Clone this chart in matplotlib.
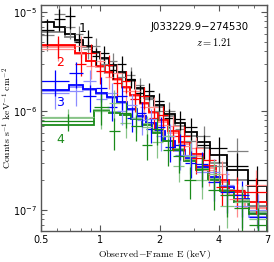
import matplotlib
matplotlib.use("Agg")
import matplotlib.pyplot as plt
import numpy as np
from matplotlib.ticker import LogLocator, FixedLocator, FixedFormatter, NullFormatter

# bin edges (keV) for each spectrum
edges1 = [0.5, 0.58, 0.66, 0.74, 0.82, 0.91, 1.0, 1.1, 1.22, 1.35, 1.5,
          1.67, 1.87, 2.1, 2.38, 2.7, 3.1, 3.6, 4.4, 5.6, 7.0]
edges2 = [0.5, 0.74, 0.85, 0.95, 1.05, 1.16, 1.28, 1.42, 1.58, 1.76, 1.97,
          2.2, 2.5, 2.85, 3.3, 3.85, 4.5, 5.4, 7.0]
edges3 = [0.5, 0.69, 0.82, 0.95, 1.08, 1.22, 1.37, 1.53, 1.71, 1.91, 2.14,
          2.4, 2.7, 3.05, 3.5, 4.05, 4.75, 5.7, 7.0]
edges4 = [0.5, 0.93, 1.1, 1.26, 1.43, 1.62, 1.83, 2.07, 2.35, 2.67, 3.05,
          3.5, 4.05, 4.75, 5.7, 7.0]

# folded models (dark = epoch a, light = epoch b)
model1a = [7.9e-6, 7.0e-6, 6.0e-6, 5.2e-6, 4.5e-6, 3.9e-6, 3.4e-6, 2.9e-6, 2.45e-6, 2.05e-6,
           1.7e-6, 1.42e-6, 1.15e-6, 9.3e-7, 7.6e-7, 6.1e-7, 4.8e-7, 3.6e-7, 2.5e-7, 1.75e-7]
model1b = [6.3e-6, 6.2e-6, 5.6e-6, 5.0e-6, 4.4e-6, 3.85e-6, 3.35e-6, 2.85e-6, 2.4e-6, 2.0e-6,
           1.65e-6, 1.36e-6, 1.1e-6, 8.8e-7, 7.0e-7, 5.5e-7, 4.2e-7, 3.0e-7, 2.0e-7, 1.1e-7]
model2a = [4.6e-6, 3.8e-6, 3.2e-6, 2.8e-6, 2.45e-6, 2.1e-6, 1.75e-6, 1.45e-6, 1.2e-6,
           9.8e-7, 8.0e-7, 6.3e-7, 4.8e-7, 3.7e-7, 2.8e-7, 2.0e-7, 1.5e-7, 1.2e-7]
model2b = [4.4e-6, 3.7e-6, 3.15e-6, 2.75e-6, 2.4e-6, 2.05e-6, 1.7e-6, 1.42e-6, 1.17e-6,
           9.5e-7, 7.7e-7, 6.0e-7, 4.6e-7, 3.5e-7, 2.65e-7, 1.9e-7, 1.4e-7, 1.05e-7]
model3a = [1.63e-6, 1.8e-6, 1.65e-6, 1.5e-6, 1.38e-6, 1.22e-6, 1.05e-6, 8.9e-7, 7.5e-7,
           6.2e-7, 5.0e-7, 4.0e-7, 3.3e-7, 2.7e-7, 2.15e-7, 1.7e-7, 1.3e-7, 9.3e-8]
model3b = [1.6e-6, 1.75e-6, 1.62e-6, 1.48e-6, 1.35e-6, 1.2e-6, 1.03e-6, 8.7e-7, 7.3e-7,
           6.0e-7, 4.9e-7, 3.9e-7, 3.2e-7, 2.6e-7, 2.05e-7, 1.6e-7, 1.2e-7, 8.5e-8]
model4a = [7.2e-7, 1.0e-6, 9.6e-7, 9.0e-7, 8.2e-7, 7.2e-7, 6.0e-7, 4.9e-7, 4.0e-7,
           3.1e-7, 2.5e-7, 2.0e-7, 1.55e-7, 1.2e-7, 9.0e-8]
model4b = [8.5e-7, 1.02e-6, 9.7e-7, 9.1e-7, 8.3e-7, 7.3e-7, 6.1e-7, 5.0e-7, 4.1e-7,
           3.2e-7, 2.6e-7, 2.05e-7, 1.6e-7, 1.25e-7, 9.5e-8]

# data points
data1a = [6.5e-6, 8.5e-6, 9.0e-6, 5.0e-6, 5.5e-6, 3.6e-6, 3.8e-6, 2.6e-6, 3.0e-6, 2.1e-6,
          1.5e-6, 1.6e-6, 1.25e-6, 8.5e-7, 8.2e-7, 6.8e-7, 4.5e-7, 4.2e-7, 2.8e-7, 2.0e-7]
data1b = [5.8e-6, 9.5e-6, 7.0e-6, 6.0e-6, 4.2e-6, 4.5e-6, 3.0e-6, 3.2e-6, 2.2e-6, 2.3e-6,
          1.8e-6, 1.3e-6, 1.0e-6, 1.0e-6, 6.5e-7, 5.0e-7, 5.5e-7, 2.8e-7, 3.9e-7, 1.1e-7]
data2a = [4.6e-6, 3.0e-6, 3.8e-6, 2.5e-6, 2.9e-6, 1.9e-6, 2.0e-6, 1.3e-6, 1.4e-6,
          8.5e-7, 9.0e-7, 5.5e-7, 5.5e-7, 3.3e-7, 3.2e-7, 1.7e-7, 1.6e-7, 1.5e-7]
data2b = [4.2e-6, 4.5e-6, 2.8e-6, 3.2e-6, 2.2e-6, 2.4e-6, 1.6e-6, 1.6e-6, 1.1e-6,
          1.1e-6, 7.2e-7, 7.0e-7, 4.4e-7, 4.2e-7, 2.5e-7, 2.3e-7, 1.3e-7, 1.8e-7]
data3a = [2.0e-6, 2.4e-6, 1.4e-6, 1.7e-6, 1.1e-6, 1.4e-6, 8.5e-7, 9.5e-7, 6.5e-7,
          6.8e-7, 4.3e-7, 4.5e-7, 3.0e-7, 2.9e-7, 1.9e-7, 1.5e-7, 1.4e-7, 8.5e-8]
data3b = [1.5e-6, 1.6e-6, 2.0e-6, 1.3e-6, 1.5e-6, 1.0e-6, 1.15e-6, 8.0e-7, 8.2e-7,
          5.5e-7, 5.6e-7, 3.6e-7, 3.6e-7, 2.4e-7, 2.4e-7, 1.8e-7, 1.1e-7, 1.0e-7]
data4a = [7.8e-7, 1.1e-6, 6.2e-7, 9.5e-7, 7.0e-7, 4.5e-7, 6.5e-7, 4.0e-7, 3.5e-7,
          2.0e-7, 2.6e-7, 1.6e-7, 1.4e-7, 1.05e-7, 7.0e-8]
data4b = [8.6e-7, 1.0e-6, 1.2e-6, 7.5e-7, 8.5e-7, 6.8e-7, 4.8e-7, 5.5e-7, 2.8e-7,
          3.5e-7, 2.0e-7, 2.3e-7, 1.1e-7, 1.2e-7, 8.0e-8]

# fractional 1-sigma errors
err1 = [0.3, 0.25, 0.25, 0.2, 0.2, 0.2, 0.2, 0.2, 0.2, 0.2,
        0.2, 0.2, 0.2, 0.22, 0.22, 0.25, 0.28, 0.3, 0.35, 0.4]
err2 = [0.25, 0.25, 0.25, 0.25, 0.25, 0.25, 0.25, 0.25, 0.25,
        0.25, 0.25, 0.28, 0.28, 0.3, 0.3, 0.35, 0.35, 0.4]
err3 = [0.3, 0.3, 0.3, 0.28, 0.28, 0.28, 0.28, 0.28, 0.28,
        0.28, 0.3, 0.3, 0.3, 0.32, 0.35, 0.38, 0.4, 0.45]
err4 = [0.2, 0.35, 0.35, 0.3, 0.3, 0.3, 0.3, 0.3, 0.32,
        0.35, 0.35, 0.38, 0.4, 0.45, 0.5]

xticks = [0.5, 1, 2, 4, 7]
xticklabels = ["0.5", "1", "2", "4", "7"]

spectra = [
    (edges1, model1a, model1b, data1a, data1b, err1, "black", "#808080"),
    (edges2, model2a, model2b, data2a, data2b, err2, "red", "#ff8c8c"),
    (edges3, model3a, model3b, data3a, data3b, err3, "blue", "#8c8cff"),
    (edges4, model4a, model4b, data4a, data4b, err4, "#1a8a1a", "#88c488"),
]

fig = plt.figure(figsize=(2.74, 2.62), dpi=100)
ax = fig.add_axes([0.150, 0.118, 0.824, 0.863])

for edges, ma, mb, da, db, err, dark, light in spectra:
    e = np.array(edges)
    cen = np.sqrt(e[:-1] * e[1:])
    xerr = [cen - e[:-1], e[1:] - cen]
    for d, c in ((db, light), (da, dark)):
        d = np.array(d)
        ax.errorbar(cen, d, xerr=xerr, yerr=d * np.array(err), fmt="none",
                    ecolor=c, elinewidth=0.9, capsize=0)
    ax.stairs(mb, edges, color=light, lw=1.3)
    ax.stairs(ma, edges, color=dark, lw=1.3)

ax.set_xscale("log")
ax.set_yscale("log")
ax.set_xlim(0.5, 7)
ax.set_ylim(6.1e-8, 1.17e-5)

ax.xaxis.set_major_locator(FixedLocator(xticks))
ax.xaxis.set_major_formatter(FixedFormatter(xticklabels))
ax.xaxis.set_minor_locator(FixedLocator([0.6, 0.7, 0.8, 0.9, 3, 5, 6]))
ax.xaxis.set_minor_formatter(NullFormatter())
ax.yaxis.set_minor_locator(LogLocator(base=10, subs=np.arange(2, 10)))
ax.yaxis.set_minor_formatter(NullFormatter())

ax.tick_params(which="both", direction="in", top=True, right=True,
               labelsize=7, color="#555555", pad=3)
ax.tick_params(which="major", length=4, width=0.8)
ax.tick_params(which="minor", length=2, width=0.6)
for s in ax.spines.values():
    s.set_color("#555555")
    s.set_linewidth(1.0)

ax.set_xlabel(r"$\mathrm{Observed\!-\!Frame\ E\ (keV)}$", fontsize=7,
              math_fontfamily="cm", labelpad=2)
ax.set_ylabel(r"$\mathrm{Counts\ s^{-1}\ keV^{-1}\ cm^{-2}}$", fontsize=7,
              math_fontfamily="cm")
ax.yaxis.set_label_coords(-0.122, 0.5)

ax.text(0.70, 0.903, "J033229.9\u2212274530", transform=ax.transAxes,
        ha="center", va="center", fontsize=7.3)
ax.text(0.765, 0.836, r"$z=1.21$", transform=ax.transAxes, ha="center",
        va="center", fontsize=7.5, math_fontfamily="cm")

for lab, x, y, c in (("1", 0.185, 0.895, "black"), ("2", 0.085, 0.745, "red"),
                     ("3", 0.085, 0.57, "blue"), ("4", 0.085, 0.405, "#1a8a1a")):
    ax.text(x, y, lab, transform=ax.transAxes, ha="center", va="center",
            fontsize=9, color=c)

fig.savefig("out.png", dpi=100)
